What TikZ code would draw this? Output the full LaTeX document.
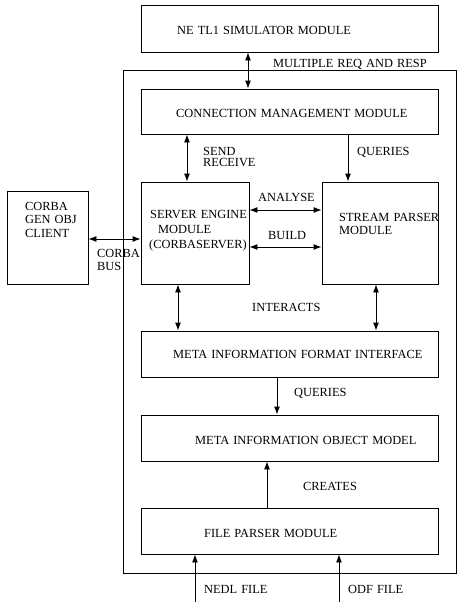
\documentclass[tikz,border=0pt]{standalone}
\usepackage{fontspec}
\setmainfont{Liberation Serif}[WordSpace={1.3}]
\usepackage{tikz}
\usetikzlibrary{arrows.meta,positioning}

\tikzset{
	box/.style={draw,line width=0.9pt,inner sep=0pt},
	lbl/.style={anchor=west,inner sep=0pt,text height=8pt,text depth=0pt,font=\fontsize{12.4}{14}\selectfont},
	both/.style={line width=0.9pt,{Latex[length=8pt,width=6pt]}-{Latex[length=8pt,width=6pt]}},
	one/.style={line width=0.9pt,-{Latex[length=8pt,width=6pt]}}
}

\begin{document}
\begin{tikzpicture}[x=1pt,y=-1pt]
		\useasboundingbox (0,0) rectangle (461,606);
		% outer frame and modules
		\node[box,minimum width=333pt,minimum height=503pt] (core) at (289.5,321.5) {};
		\node[box,minimum width=297pt,minimum height=47pt] (netl) at (289.5,28.5) {};
		\node[box,minimum width=297pt,minimum height=45pt] (conn) at (289.5,111.5) {};
		\node[box,minimum width=108pt,minimum height=102pt] (engine) at (195,233) {};
		\node[box,minimum width=116pt,minimum height=102pt] (stream) at (380,233) {};
		\node[box,minimum width=81pt,minimum height=93pt] (client) at (47.5,237.5) {};
		\node[box,minimum width=297pt,minimum height=46pt] (mifi) at (289.5,354) {};
		\node[box,minimum width=297pt,minimum height=46pt] (miom) at (289.5,438) {};
		\node[box,minimum width=297pt,minimum height=46pt] (fparse) at (289.5,531) {};
		\coordinate (nedl) at (195,602);
		\coordinate (odf) at (339,602);
		% texts
		\node[lbl] at (177,30) {NE TL1 SIMULATOR MODULE};
		\node[lbl] at (273,63) {MULTIPLE REQ AND RESP};
		\node[lbl] at (176,113) {CONNECTION MANAGEMENT MODULE};
		\node[lbl] at (203,151) {SEND};
		\node[lbl] at (203,162) {RECEIVE};
		\node[lbl] at (357,151) {QUERIES};
		\node[lbl] at (25,206) {CORBA};
		\node[lbl] at (25,219) {GEN OBJ};
		\node[lbl] at (25,233) {CLIENT};
		\node[lbl] at (150,214) {SERVER ENGINE};
		\node[lbl] at (158,229) {MODULE};
		\node[lbl] at (149,244) {(CORBASERVER)};
		\node[lbl] at (258,197) {ANALYSE};
		\node[lbl] at (268,235) {BUILD};
		\node[lbl] at (339,217) {STREAM PARSER};
		\node[lbl] at (339,230) {MODULE};
		\node[lbl] at (97,253) {CORBA};
		\node[lbl] at (97,266) {BUS};
		\node[lbl] at (252,307) {INTERACTS};
		\node[lbl] at (173,354) {META INFORMATION FORMAT INTERFACE};
		\node[lbl] at (294,392) {QUERIES};
		\node[lbl] at (195,440) {META INFORMATION OBJECT MODEL};
		\node[lbl] at (303,486) {CREATES};
		\node[lbl] at (204,533) {FILE PARSER MODULE};
		\node[lbl] at (204,589) {NEDL FILE};
		\node[lbl] at (348,589) {ODF FILE};
		% connectors
		\draw[both] ([xshift=-41.5pt]netl.south) -- ([xshift=-41.5pt]conn.north);
		\draw[both] ([xshift=-102.5pt]conn.south) -- ([xshift=-8pt]engine.north);
		\draw[one] ([xshift=58.5pt]conn.south) -- ([xshift=-32pt]stream.north);
		\draw[both] ([yshift=-1.5pt]client.east) -- ([yshift=-6pt]engine.west);
		\draw[both] ([yshift=23pt]engine.east) -- ([yshift=23pt]stream.west);
		\draw[both] ([yshift=-14pt]engine.east) -- ([yshift=-14pt]stream.west);
		\draw[both] ([xshift=-17pt]engine.south) -- ([xshift=-111.5pt]mifi.north);
		\draw[both] ([xshift=-4pt]stream.south) -- ([xshift=86.5pt]mifi.north);
		\draw[one] ([xshift=-12.5pt]mifi.south) -- ([xshift=-12.5pt]miom.north);
		\draw[one] ([xshift=-22.5pt]fparse.north) -- ([xshift=-22.5pt]miom.south);
		\draw[one] (nedl) -- ([xshift=-94.5pt]fparse.south);
		\draw[one] (odf) -- ([xshift=49.5pt]fparse.south);
	\end{tikzpicture}
\end{document}
